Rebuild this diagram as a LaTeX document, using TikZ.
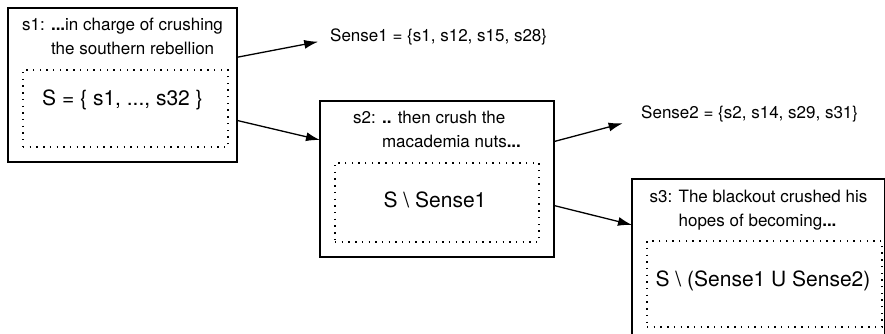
\documentclass[tikz,border=0pt]{standalone}
\usepackage{fontspec}
\setmainfont{TeX Gyre Heros}
\usetikzlibrary{%
  arrows.meta,
  calc
}
\tikzset{
  sentbox/.style={draw, line width=1.4pt, inner sep=0pt, outer sep=0pt},
  candbox/.style={draw, line width=1.3pt, dash pattern=on 1.4pt off 5.3pt, inner sep=0pt, outer sep=0pt},
  sentence/.style={anchor=north, align=left, inner sep=0pt, font=\fontsize{17}{24}\selectfont},
  settext/.style={anchor=base, inner sep=0pt, font=\fontsize{21}{25}\selectfont},
  senselabel/.style={anchor=base west, inner sep=0pt, font=\fontsize{17}{20}\selectfont},
  link/.style={line width=1.3pt, -{Latex[length=14pt,width=9pt]}},
}

\begin{document}
\begin{tikzpicture}[x=1pt,y=-1pt]
\useasboundingbox (0,0) rectangle (885,334);
%%%sentence boxes
\node[sentbox, minimum width=229pt, minimum height=154pt] (box1) at (122.5,85) {};
\node[sentbox, minimum width=234pt, minimum height=156pt] (box2) at (437,179) {};
\node[sentbox, minimum width=253pt, minimum height=170pt] (box3) at (758.5,264) {};

%%%sentences
\node[sentence] (sentA) at ([yshift=-10pt]box1.north) {s1: \textbf{...}in charge of crushing\\\hphantom{s1: }the southern rebellion};
\node[sentence] (sentB) at ([yshift=-10pt]box2.north) {s2: \textbf{..} then crush the\\\hphantom{s2: }macademia nuts\textbf{...}};
\node[sentence] (sentC) at ([yshift=-11pt]box3.north) {s3: The blackout crushed his\\\hphantom{s3: }hopes of becoming\textbf{...}};

%%%candidate sets
\node[candbox, minimum width=205pt, minimum height=77pt] (candA) at (125.5,108.5) {};
\node[candbox, minimum width=204pt, minimum height=79pt] (candB) at (437,202.5) {};
\node[candbox, minimum width=235pt, minimum height=86pt] (candC) at (764.5,284) {};
\node[settext] (setA) at (122.5,106) {S = \{ s1, ..., s32 \}};
\node[settext] (setB) at (435,207) {S \textbackslash\ Sense1};
\node[settext] (setC) at (763,286) {S \textbackslash\ (Sense1 U Sense2)};

%%%senses
\node[senselabel] (sense1) at (330,42) {Sense1 = \{s1, s12, s15, s28\}};
\node[senselabel] (sense2) at (641,118) {Sense2 = \{s2, s14, s29, s31\}};

%%%arrows
\draw[link, shorten >=12pt] ($(box1.north east)!0.32!(box1.south east)$) -- ([yshift=-2pt]sense1.west);
\draw[link] ($(box1.north east)!0.73!(box1.south east)$) -- ($(box2.north west)!0.25!(box2.south west)$);
\draw[link, shorten >=19pt] ($(box2.north east)!0.26!(box2.south east)$) -- ([yshift=-5pt]sense2.west);
\draw[link] ($(box2.north east)!0.67!(box2.south east)$) -- ($(box3.north west)!0.27!(box3.south west)$);

\end{tikzpicture}
\end{document}
